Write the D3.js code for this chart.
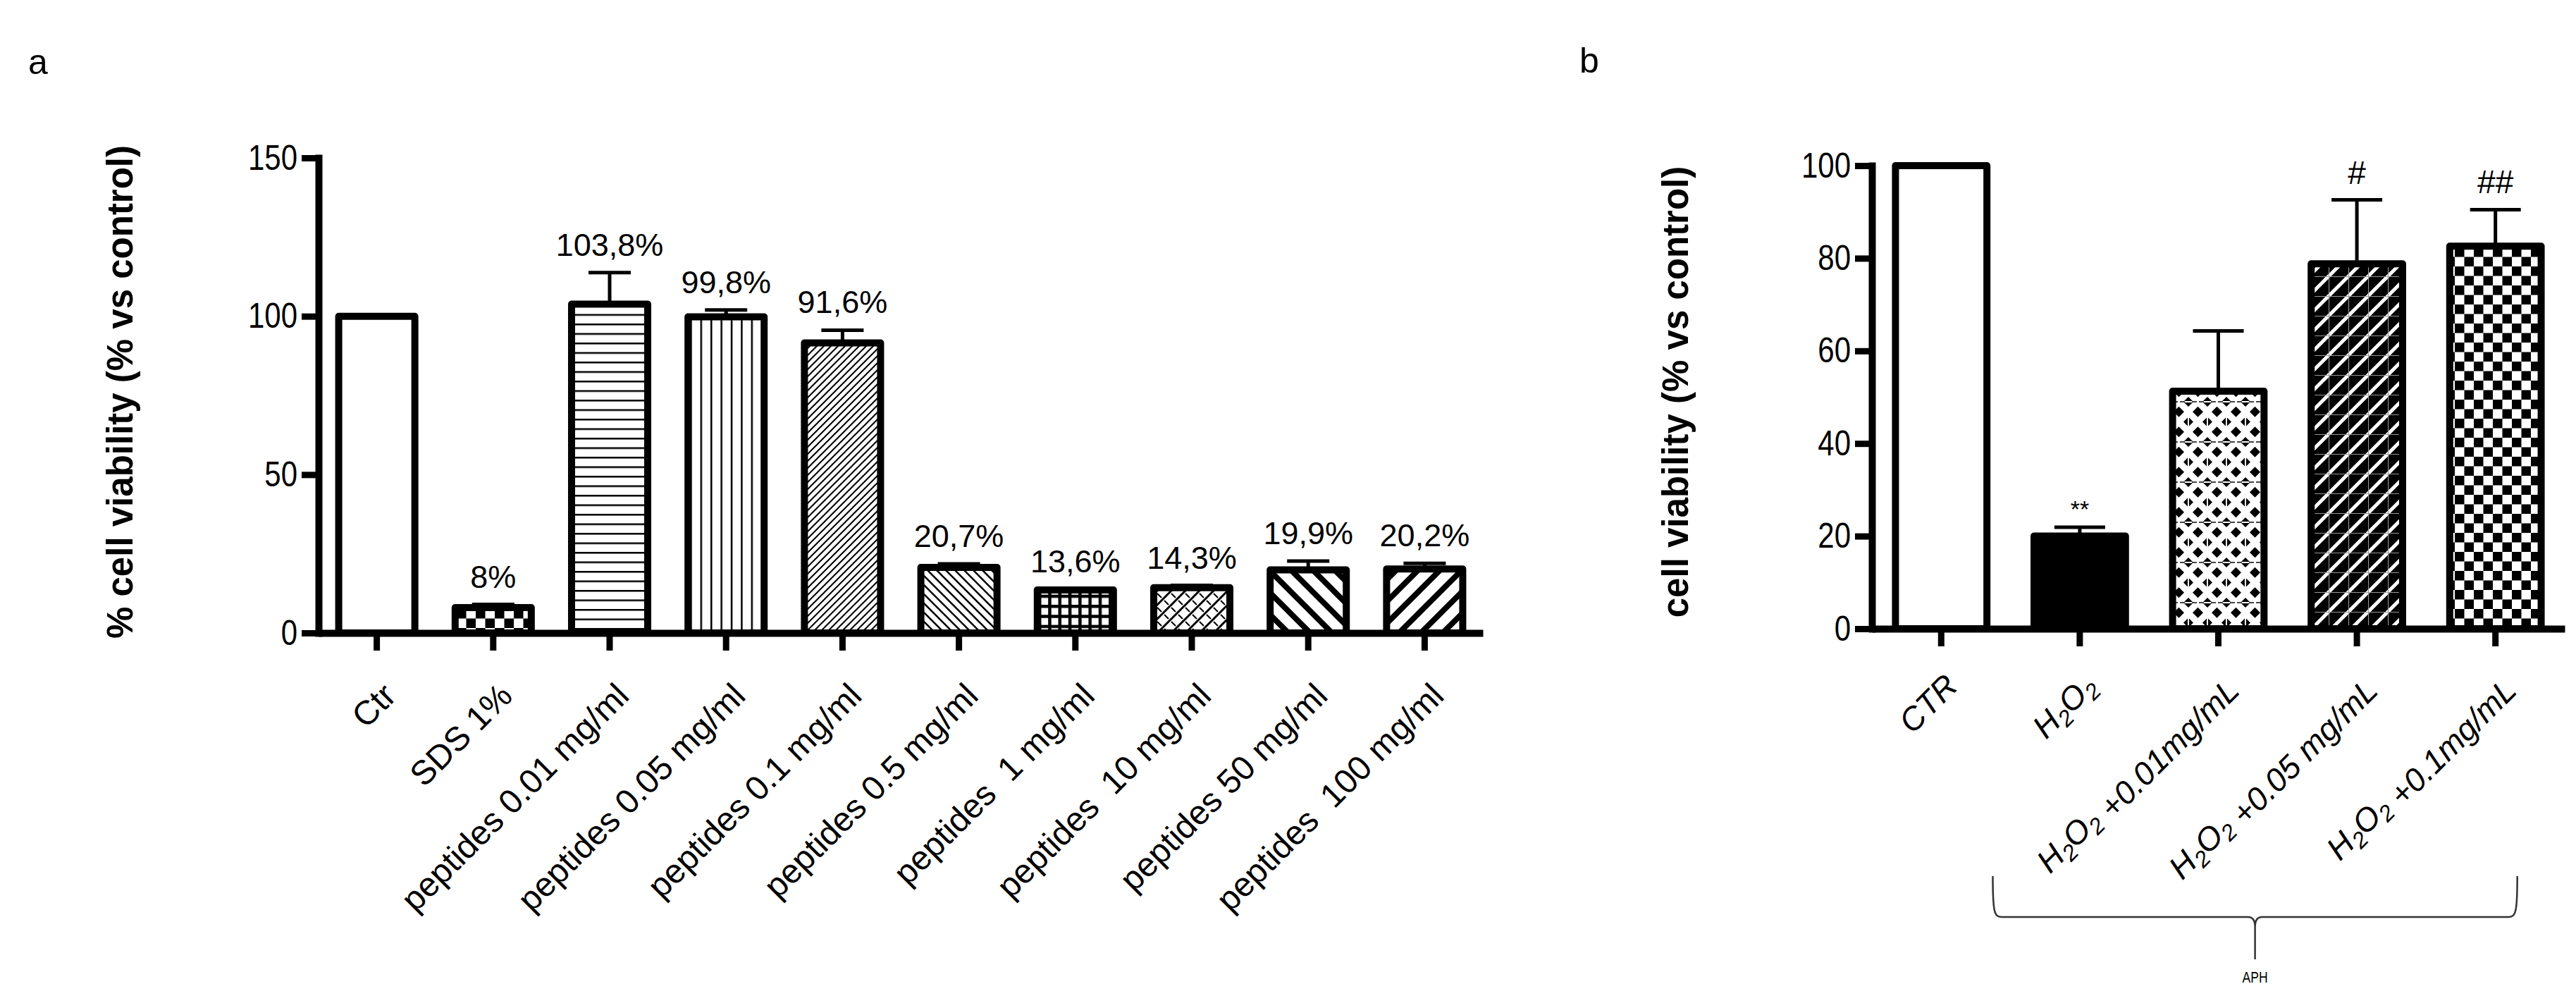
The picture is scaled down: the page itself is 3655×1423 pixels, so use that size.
<!DOCTYPE html>
<html lang="en">
<head>
<meta charset="UTF-8">
<title>Cell viability</title>
<style>
  body { margin: 0; background: #fff; }
  svg { display: block; }
  .num { font-family: 'Liberation Sans', Arial, sans-serif; }
  .lbl { font-family: 'Liberation Sans', Arial, sans-serif; white-space: pre; }
  .ttl { font-family: 'Liberation Sans', Arial, sans-serif; font-weight: bold; font-size: 51px; }
</style>
</head>
<body>
<div id="chart"></div>
<script src="https://d3js.org/d3.v7.min.js"></script>
<script>
// panel a data
const catsA = ["Ctr", "SDS 1%", "peptides 0.01 mg/ml", "peptides 0.05 mg/ml", "peptides 0.1 mg/ml",
               "peptides 0.5 mg/ml", "peptides  1 mg/ml", "peptides  10 mg/ml", "peptides 50 mg/ml", "peptides  100 mg/ml"];
const valsA = [100, 8, 103.8, 99.8, 91.6, 20.7, 13.6, 14.3, 19.9, 20.2];
const errA = [0, 1.0, 10.0, 2.2, 4.0, 1.1, 0.3, 0.7, 2.8, 1.8];
const pctA = ["", "8%", "103,8%", "99,8%", "91,6%", "20,7%", "13,6%", "14,3%", "19,9%", "20,2%"];
const ticksA = [0, 50, 100, 150];
const titleA = "% cell viability (% vs control)";

// panel b data
const catsB = ["CTR", "H2O2", "H2O2 +0.01mg/mL", "H2O2 +0.05 mg/mL", "H2O2 +0.1mg/mL"];
const valsB = [100, 20.0, 51.3, 78.8, 82.6];
const errB = [0, 1.9, 13.0, 13.8, 7.9];
const marksB = ["", "**", "", "#", "##"];
const ticksB = [0, 20, 40, 60, 80, 100];
const titleB = "cell viability (% vs control)";
const groupB = "APH";

const W = 3655, H = 1423;
const svg = d3.select("#chart").append("svg").attr("width", W).attr("height", H);
const defs = svg.append("defs");

// squeeze text horizontally (no narrow font installed)
function narrow(sel, k) {
    sel.each(function () {
        const len = this.getComputedTextLength();
        if (len > 0) d3.select(this).attr("textLength", len * k).attr("lengthAdjust", "spacingAndGlyphs");
    });
}

// ---- fill patterns ----
function pat(id, w, h, bg) {
    const p = defs.append("pattern").attr("id", id)
        .attr("patternUnits", "userSpaceOnUse").attr("width", w).attr("height", h);
    p.append("rect").attr("width", w).attr("height", h).attr("fill", bg || "#fff");
    return p;
}
function diag(id, s, sw, dir, fg, bg) {
    const p = pat(id, s, s, bg), q = s / 4;
    const d = dir === "/"
        ? `M${-q},${q}L${q},${-q}M0,${s}L${s},0M${s - q},${s + q}L${s + q},${s - q}`
        : `M${-q},${s - q}L${q},${s + q}M0,0L${s},${s}M${s - q},${-q}L${s + q},${q}`;
    p.append("path").attr("d", d).attr("stroke", fg || "#000").attr("stroke-width", sw);
    return p;
}
function checker(id, c) {
    const p = pat(id, 2 * c, 2 * c);
    p.append("rect").attr("width", c).attr("height", c);
    p.append("rect").attr("x", c).attr("y", c).attr("width", c).attr("height", c);
}
checker("checkA", 13.5);
checker("checkB", 13.5);
pat("hlines", 10, 13.5).append("rect").attr("width", 10).attr("height", 2.5);
pat("vlines", 14.4, 10).append("rect").attr("width", 2.5).attr("height", 10);
diag("fineFwd", 10, 2, "/");
diag("midBack", 13, 2.6, "\\");
const g1 = pat("grid", 14.3, 14.3);
g1.append("rect").attr("width", 14.3).attr("height", 4.5);
g1.append("rect").attr("width", 4.5).attr("height", 14.3);
const wv = diag("weave", 20, 3, "/");
wv.append("path").attr("d", "M2,2L8,8M12,12L18,18").attr("stroke", "#000").attr("stroke-width", 2);
diag("thickBack", 31, 8, "\\");
diag("thickFwd", 31, 8, "/");
const bd = diag("blackDiag", 28, 5, "/", "#fff", "#000");
bd.append("path").attr("d", "M0,0.5H28M0.5,0V28").attr("stroke", "#999").attr("stroke-width", 1.2);
const dm = pat("diamonds", 27, 57);
const dia = (cx, cy, r) => `M${cx},${cy - r}L${cx + r},${cy}L${cx},${cy + r}L${cx - r},${cy}Z`;
[[13.5, 14.25], [13.5, 42.75]].forEach(([x, y]) => dm.append("path").attr("d", dia(x, y, 7.5)));
[[0, 0], [27, 0], [0, 57], [27, 57]].forEach(([x, y]) => {
    dm.append("path").attr("d", dia(x, y, 7));
    dm.append("line").attr("x1", x - 12).attr("x2", x + 12).attr("y1", y).attr("y2", y).attr("stroke", "#444").attr("stroke-width", 2);
    dm.append("line").attr("x1", x - 5).attr("x2", x + 5).attr("y1", y).attr("y2", y).attr("stroke", "#fff").attr("stroke-width", 2);
});
[[0, 28.5], [27, 28.5]].forEach(([x, y]) => {
    dm.append("path").attr("d", dia(x, y, 7));
    dm.append("line").attr("x1", x).attr("x2", x).attr("y1", y - 7).attr("y2", y + 7).attr("stroke", "#fff").attr("stroke-width", 2);
});

const fillsA = ["#fff", "url(#checkA)", "url(#hlines)", "url(#vlines)", "url(#fineFwd)",
                "url(#midBack)", "url(#grid)", "url(#weave)", "url(#thickBack)", "url(#thickFwd)"];
const fillsB = ["#fff", "#000", "url(#diamonds)", "url(#blackDiag)", "url(#checkB)"];

// ---- scales ----
const xA = d3.scaleBand().domain(catsA).range([452, 2104]).paddingInner(0.346).paddingOuter(0.173);
const yA = d3.scaleLinear().domain([0, 150]).range([898, 224]);
const xB = d3.scaleBand().domain(catsB).range([2656, 3639]).paddingInner(0.34).paddingOuter(0.17);
const yB = d3.scaleLinear().domain([0, 100]).range([892, 235]);

function panel(x, y, cats, vals, errs, fills, ticks, capW) {
    const g = svg.append("g");
    const cx = c => x(c) + x.bandwidth() / 2;
    // error bars
    const eb = g.append("g").attr("stroke", "#000").attr("stroke-width", 5);
    cats.forEach((c, i) => {
        if (!errs[i]) return;
        eb.append("line").attr("x1", cx(c)).attr("x2", cx(c)).attr("y1", y(vals[i])).attr("y2", y(vals[i] + errs[i]));
        eb.append("line").attr("x1", cx(c) - capW / 2).attr("x2", cx(c) + capW / 2)
            .attr("y1", y(vals[i] + errs[i])).attr("y2", y(vals[i] + errs[i]));
    });
    // bars
    g.selectAll(".bar").data(cats).join("rect")
        .attr("class", "bar")
        .attr("x", c => x(c)).attr("width", x.bandwidth())
        .attr("y", (c, i) => y(vals[i])).attr("height", (c, i) => y(0) - y(vals[i]))
        .attr("fill", (c, i) => fills[i])
        .attr("stroke", "#000").attr("stroke-width", 10).attr("stroke-linejoin", "round");
    // axes
    const ya = g.append("g").attr("transform", `translate(${x.range()[0]},0)`)
        .call(d3.axisLeft(y).tickValues(ticks).tickSize(24).tickSizeOuter(0).tickPadding(6));
    ya.select(".domain").attr("stroke-width", 10).attr("stroke-linecap", "square");
    const xa = g.append("g").attr("transform", `translate(0,${y(0)})`)
        .call(d3.axisBottom(x).tickSize(25).tickSizeOuter(0).tickFormat(""));
    xa.select(".domain").attr("stroke-width", 10);
    g.selectAll(".tick line").attr("stroke-width", 9);
    ya.attr("font-size", 50).attr("font-family", null);
    ya.selectAll(".tick text").attr("class", "num").call(narrow, 0.84);
    return {g, cx};
}

// ---- panel a ----
const pa = panel(xA, yA, catsA, valsA, errA, fillsA, ticksA, 60);
pa.g.selectAll(".pct").data(catsA).join("text")
    .attr("class", "lbl").attr("font-size", 45).attr("text-anchor", "middle")
    .attr("x", c => pa.cx(c)).attr("y", (c, i) => yA(valsA[i] + errA[i]) - 24)
    .text((c, i) => pctA[i]);
pa.g.selectAll(".xl").data(catsA).join("text")
    .attr("class", "lbl").attr("font-size", 48).attr("text-anchor", "end")
    .attr("transform", c => `translate(${pa.cx(c) + 30},${yA(0) + 92}) rotate(-45)`)
    .text(c => c);
svg.append("text").attr("class", "ttl")
    .attr("transform", "translate(188,556) rotate(-90)").attr("text-anchor", "middle").text(titleA);
svg.append("text").attr("class", "lbl").attr("font-size", 50).attr("x", 40).attr("y", 105).text("a");

// ---- panel b ----
const pb = panel(xB, yB, catsB, valsB, errB, fillsB, ticksB, 72);
pb.g.selectAll(".mk").data(catsB).join("text")
    .attr("class", "lbl").attr("text-anchor", "middle")
    .attr("font-size", (c, i) => marksB[i].includes("*") ? 34 : 46)
    .attr("x", c => pb.cx(c)).attr("y", (c, i) => yB(valsB[i] + errB[i]) - (marksB[i].includes("*") ? 14 : 23))
    .text((c, i) => marksB[i]);
const xl = pb.g.selectAll(".xl").data(catsB).join("text")
    .attr("class", "lbl").attr("font-size", 46).attr("font-style", "italic").attr("text-anchor", "end")
    .attr("transform", c => `translate(${pb.cx(c) + 26},${yB(0) + 84}) rotate(-45)`);
xl.each(function (c) {
    const t = d3.select(this);
    c.split(/(H2O2)/).filter(s => s).forEach(part => {
        if (part === "H2O2") {
            t.append("tspan").text("H");
            t.append("tspan").attr("font-size", 32).attr("dy", 9).text("2");
            t.append("tspan").attr("dy", -9).text("O");
            t.append("tspan").attr("font-size", 32).attr("dy", 9).text("2");
            t.append("tspan").attr("dy", -9).text("");
        } else {
            t.append("tspan").text(part);
        }
    });
});
svg.append("text").attr("class", "ttl")
    .attr("transform", "translate(2395,556) rotate(-90)").attr("text-anchor", "middle").text(titleB);
svg.append("text").attr("class", "lbl").attr("font-size", 50).attr("x", 2241).attr("y", 103).text("b");

// bracket under the treated groups
const bl = pb.cx(catsB[2]) - 320, br = pb.cx(catsB[4]) + 31, bm = (bl + br) / 2;
const bTop = 1243, bY = 1301, bTip = 1361;
svg.append("path")
    .attr("d", `M${bl},${bTop}C${bl},${bY - 8} ${bl + 2},${bY} ${bl + 12},${bY}L${bm - 10},${bY}Q${bm},${bY} ${bm},${bY + 14}L${bm},${bTip}` +
               `M${bm},${bY + 14}Q${bm},${bY} ${bm + 10},${bY}L${br - 12},${bY}C${br - 2},${bY} ${br},${bY - 8} ${br},${bTop}`)
    .attr("fill", "none").attr("stroke", "#333").attr("stroke-width", 2.5);
svg.append("text").attr("class", "lbl").attr("font-size", 22).attr("text-anchor", "middle")
    .attr("x", bm).attr("y", 1394).text(groupB)
    .call(narrow, 0.8);
</script>
</body>
</html>
